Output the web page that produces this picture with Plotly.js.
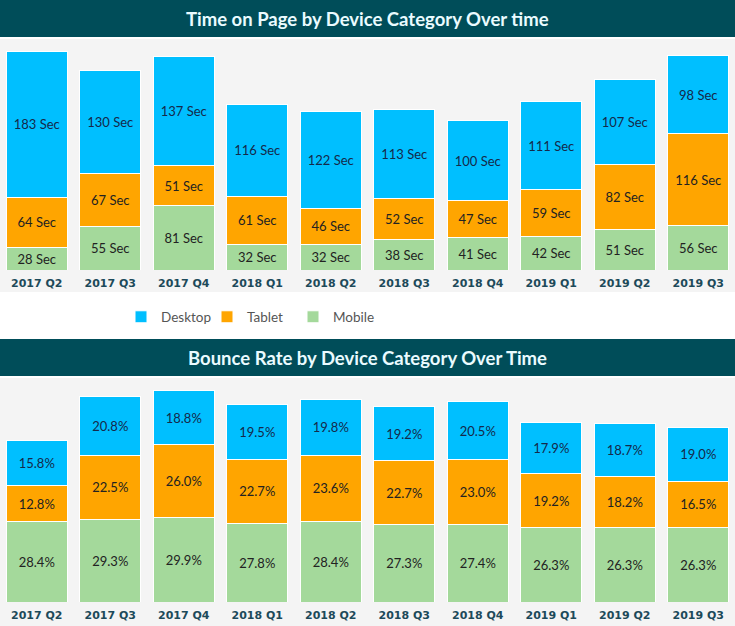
<!DOCTYPE html>
<html>
<head>
<meta charset="utf-8">
<script src="https://cdn.plot.ly/plotly-3.0.1.min.js"></script>
<style>
html,body{margin:0;padding:0;background:#ffffff;}
#chart{width:735px;height:626px;}
</style>
</head>
<body>
<div id="chart"></div>
<script>
// ---- data ----
const quarters = ["2017 Q2","2017 Q3","2017 Q4","2018 Q1","2018 Q2","2018 Q3","2018 Q4","2019 Q1","2019 Q2","2019 Q3"];
const series = ["Desktop","Tablet","Mobile"];
const timeMobile  = [28,55,81,32,32,38,41,42,51,56];
const timeTablet  = [64,67,51,61,46,52,47,59,82,116];
const timeDesktop = [183,130,137,116,122,113,100,111,107,98];
const bounceMobile  = [28.4,29.3,29.9,27.8,28.4,27.3,27.4,26.3,26.3,26.3];
const bounceTablet  = [12.8,22.5,26.0,22.7,23.6,22.7,23.0,19.2,18.2,16.5];
const bounceDesktop = [15.8,20.8,18.8,19.5,19.8,19.2,20.5,17.9,18.7,19.0];
const title1 = "Time on Page by Device Category Over time";
const title2 = "Bounce Rate by Device Category Over Time";

// ---- styling ----
const W = 735, H = 626;
const colors = {Desktop:"#00BFFF", Tablet:"#FFA500", Mobile:"#A4D99B"};
const textColors = {Desktop:"#15294a", Tablet:"#222222", Mobile:"#222222"};
const banner = "#004D59";
const panel = "#F4F4F4";
const fy = px => 1 - px / H;

function mk(name, y, xa, ya, tmpl, showleg){
  return {
    type:"bar", name:name, x:quarters, y:y, xaxis:xa, yaxis:ya,
    marker:{color:colors[name], line:{color:"#ffffff", width:1}},
    texttemplate:tmpl, textposition:"inside", insidetextanchor:"middle",
    textangle:0, constraintext:"none",
    textfont:{family:"Lato, 'Open Sans', sans-serif", size:13, color:textColors[name]},
    hoverinfo:"skip", showlegend:showleg, legendgroup:name
  };
}

const data = [
  mk("Mobile", timeMobile, "x", "y", "%{y} Sec", true),
  mk("Tablet", timeTablet, "x", "y", "%{y} Sec", true),
  mk("Desktop", timeDesktop, "x", "y", "%{y} Sec", true),
  mk("Mobile", bounceMobile, "x2", "y2", "%{y:.1f}%", false),
  mk("Tablet", bounceTablet, "x2", "y2", "%{y:.1f}%", false),
  mk("Desktop", bounceDesktop, "x2", "y2", "%{y:.1f}%", false)
];

const tickfont = {family:"'DejaVu Sans', sans-serif", size:11, color:"#1d4a5a", weight:"bold"};
const xbase = {type:"category", range:[-0.5,9.5], domain:[0,1], showgrid:false, zeroline:false,
  showline:false, ticks:"", tickfont:tickfont, fixedrange:true, ticklabelstandoff:5};

const layout = {
  width:W, height:H,
  margin:{l:0,r:0,t:0,b:0},
  paper_bgcolor:"#ffffff", plot_bgcolor:"rgba(0,0,0,0)",
  barmode:"stack", bargap:0.17,
  xaxis:Object.assign({}, xbase, {anchor:"y"}),
  xaxis2:Object.assign({}, xbase, {anchor:"y2"}),
  yaxis:{domain:[fy(270), fy(40)], range:[0,290], visible:false, fixedrange:true},
  yaxis2:{domain:[fy(602), fy(378)], range:[0,79.3], visible:false, fixedrange:true},
  showlegend:true,
  legend:{orientation:"h", traceorder:"reversed", x:121/W, xanchor:"left", y:fy(317), yanchor:"middle",
    entrywidth:41, itemwidth:30, bgcolor:"rgba(0,0,0,0)",
    font:{family:"Lato, 'Open Sans', sans-serif", size:13.5, color:"#555555"}},
  shapes:[
    {type:"rect", xref:"paper", yref:"paper", x0:0, x1:1, y0:fy(37), y1:fy(0), fillcolor:banner, line:{width:0}, layer:"below"},
    {type:"rect", xref:"paper", yref:"paper", x0:0, x1:1, y0:fy(292), y1:fy(39), fillcolor:panel, line:{width:0}, layer:"below"},
    {type:"rect", xref:"paper", yref:"paper", x0:0, x1:1, y0:fy(376), y1:fy(339), fillcolor:banner, line:{width:0}, layer:"below"},
    {type:"rect", xref:"paper", yref:"paper", x0:0, x1:1, y0:fy(626), y1:fy(378), fillcolor:panel, line:{width:0}, layer:"below"}
  ],
  annotations:[
    {text:title1, xref:"paper", yref:"paper", x:0.5, y:fy(18.5), xanchor:"center", yanchor:"middle", showarrow:false,
     font:{family:"Lato, 'Open Sans', sans-serif", size:18.5, color:"#EAFBFF", weight:"bold"}},
    {text:title2, xref:"paper", yref:"paper", x:0.5, y:fy(357.5), xanchor:"center", yanchor:"middle", showarrow:false,
     font:{family:"Lato, 'Open Sans', sans-serif", size:18.5, color:"#EAFBFF", weight:"bold"}}
  ]
};

Plotly.newPlot("chart", data, layout, {displayModeBar:false, staticPlot:true});
</script>
</body>
</html>
